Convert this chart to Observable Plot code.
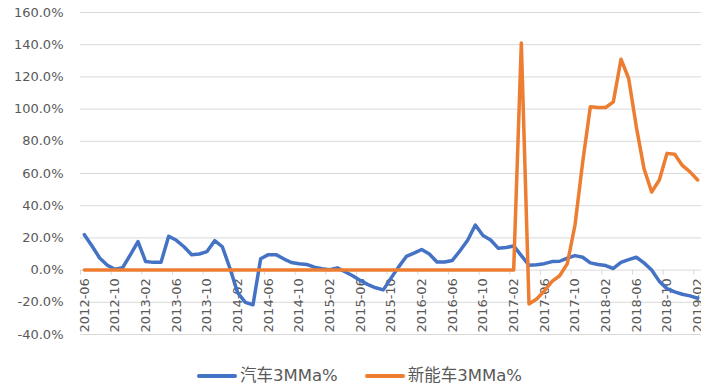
<!DOCTYPE html>
<html>
<head>
<meta charset="utf-8">
<script src="https://cdn.jsdelivr.net/npm/d3@7"></script>
<script src="https://cdn.jsdelivr.net/npm/@observablehq/plot@0.6"></script>
<style>
  html, body { margin: 0; padding: 0; background: #fff; }
  #chart { position: relative; width: 701px; height: 385px; overflow: hidden;
           font-family: "DejaVu Sans", "Noto Sans CJK SC", sans-serif; }
  #legend { position: absolute; left: 0; top: 366px; width: 701px; height: 19px;
            display: flex; align-items: center; padding-left: 197px; box-sizing: border-box;
            font-size: 16.5px; line-height: 19px; color: #595959; white-space: nowrap; }
  .item { display: flex; align-items: center; }
  .sw { width: 40px; height: 4px; border-radius: 2px; margin-right: 3px; }
</style>
</head>
<body>
<div id="chart"></div>
<script>
// Monthly categories, 2012-06 through 2019-02
const months = d3.utcMonths(new Date("2012-06-01"), new Date("2019-03-01")).map(d3.utcFormat("%Y-%m"));

// Axis labels shown every fourth month
const tickLabels = ["2012-06","2012-10","2013-02","2013-06","2013-10","2014-02","2014-06",
  "2014-10","2015-02","2015-06","2015-10","2016-02","2016-06","2016-10","2017-02","2017-06",
  "2017-10","2018-02","2018-06","2018-10","2019-02"];
const yTicks = [-40, -20, 0, 20, 40, 60, 80, 100, 120, 140, 160];

const seriesNames = ["汽车3MMa%", "新能车3MMa%"];
const seriesColors = ["#4472c4", "#ed7d31"];

// 汽车 3-month moving average growth (%)
const autoValues = [
  22, 15, 7.5, 3, 0.5, 1.5, 9.5, 17.7, 5.3, 4.8, 4.8, 21, 18.5, 14.5, 9.5, 10,
  11.5, 18.3, 14.5, 1, -14, -20, -21.5, 7, 9.6, 9.6, 7, 4.7, 4, 3.5, 1.8, 0.8,
  0.3, 1.4, -1, -3.5, -6.5, -9, -11, -12.3, -5, 2, 8.5, 10.5, 12.8, 10, 5, 5,
  6, 12, 18.5, 28, 21.5, 18.7, 13.5, 14, 15, 9, 3, 3.3, 4, 5.3, 5.5, 7.5,
  9, 8, 4.5, 3.5, 2.8, 1, 4.8, 6.5, 8, 4.5, 0, -7, -11.5, -13.5, -15, -16, -17.5
];

// 新能车 3-month moving average growth (%)
const nevValues = [
  0, 0, 0, 0, 0, 0, 0, 0, 0, 0, 0, 0, 0, 0, 0, 0,
  0, 0, 0, 0, 0, 0, 0, 0, 0, 0, 0, 0, 0, 0, 0, 0,
  0, 0, 0, 0, 0, 0, 0, 0, 0, 0, 0, 0, 0, 0, 0, 0,
  0, 0, 0, 0, 0, 0, 0, 0, 0, 141, -21, -18, -13, -7, -3.5, 4,
  28, 67, 101.5, 101, 101, 104.5, 131, 119, 89, 63, 48.5, 56, 72.5, 72, 65, 61, 56
];

const toRows = vals => vals.map((v, i) => ({i, month: months[i], v}));
const autoRows = toRows(autoValues);
const nevRows = toRows(nevValues);

const labelRows = tickLabels.map(label => ({label, i: months.indexOf(label)}));
// category boundaries carrying tick marks (every fourth month plus the end)
const tickBounds = labelRows.map(d => d.i - 0.5).concat([months.length - 0.5]);

const chart = Plot.plot({
  width: 701,
  height: 350,
  marginLeft: 80,
  marginRight: 0,
  marginTop: 12,
  marginBottom: 16,
  x: {type: "linear", domain: [-0.5, months.length - 0.5], axis: null},
  y: {domain: [-40, 160], axis: null},
  style: {fontFamily: "DejaVu Sans, Noto Sans CJK SC, sans-serif", fontSize: "13px",
          color: "#595959", background: "#fff", overflow: "visible"},
  marks: [
    Plot.ruleY(yTicks, {stroke: "#d9d9d9", strokeWidth: 1}),
    Plot.axisY(yTicks, {tickSize: 0, tickPadding: 17, fontSize: 13, fill: "#595959",
      label: null, tickFormat: d => d.toFixed(1) + "%"}),
    Plot.ruleX(tickBounds, {x: d => d, y1: () => 0, y2: () => -3.2, stroke: "#d9d9d9", strokeWidth: 1}),
    Plot.text(labelRows, {x: "i", y: () => 0, text: "label", rotate: -90, textAnchor: "end",
      lineAnchor: "middle", dy: 8, fontSize: 13, fill: "#595959"}),
    Plot.line(autoRows, {x: "i", y: "v", stroke: seriesColors[0], strokeWidth: 3.5,
      strokeLinejoin: "round", strokeLinecap: "round"}),
    Plot.line(nevRows, {x: "i", y: "v", stroke: seriesColors[1], strokeWidth: 3.5,
      strokeLinejoin: "round", strokeLinecap: "round"})
  ]
});

const root = document.getElementById("chart");
root.appendChild(chart);

const legend = document.createElement("div");
legend.id = "legend";
seriesNames.forEach((name, k) => {
  const item = document.createElement("div");
  item.className = "item";
  if (k > 0) item.style.marginLeft = "27px";
  const sw = document.createElement("span");
  sw.className = "sw";
  sw.style.background = seriesColors[k];
  const t = document.createElement("span");
  t.textContent = name;
  item.appendChild(sw);
  item.appendChild(t);
  legend.appendChild(item);
});
root.appendChild(legend);
</script>
</body>
</html>
